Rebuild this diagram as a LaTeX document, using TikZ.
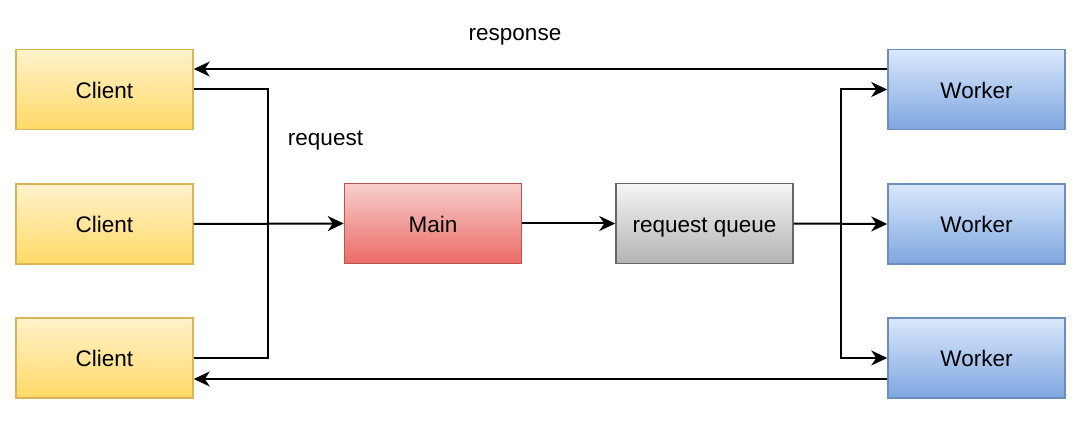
\documentclass[tikz,border=0pt]{standalone}
\usepackage{fontspec}
\setmainfont{Liberation Sans}
\usetikzlibrary{arrows.meta}
\definecolor{ytop}{HTML}{FFF2CC}\definecolor{ybot}{HTML}{FFD966}\definecolor{ydraw}{HTML}{D6B656}
\definecolor{rtop}{HTML}{F8CECC}\definecolor{rbot}{HTML}{EA6B66}\definecolor{rdraw}{HTML}{B85450}
\definecolor{gtop}{HTML}{F5F5F5}\definecolor{gbot}{HTML}{B3B3B3}\definecolor{gdraw}{HTML}{666666}
\definecolor{btop}{HTML}{DAE8FC}\definecolor{bbot}{HTML}{7EA6E0}\definecolor{bdraw}{HTML}{6C8EBF}
\tikzset{
  box/.style={rectangle, minimum width=177pt, minimum height=80pt, line width=1.5pt, inner sep=0pt,
    text height=17.5pt, text depth=0pt, font=\fontsize{22.5}{26}\selectfont},
  client/.style={box, draw=ydraw, top color=ytop, bottom color=ybot},
  mainbox/.style={box, draw=rdraw, top color=rtop, bottom color=rbot},
  queuebox/.style={box, draw=gdraw, top color=gtop, bottom color=gbot},
  worker/.style={box, draw=bdraw, top color=btop, bottom color=bbot},
  conn/.style={line width=2pt, draw=black},
  arr/.style={conn, -{Stealth[length=16pt, width=15pt, inset=5pt]}},
  lbl/.style={font=\fontsize{22.5}{26}\selectfont, anchor=base, inner sep=0pt}
}
\begin{document}
\begin{tikzpicture}[x=1pt, y=-1pt]
\useasboundingbox (0,0) rectangle (1080,425);
\node[client] (c1) at (104.5,89.5) {Client};
\node[client] (c2) at (104.5,224) {Client};
\node[client] (c3) at (104.5,358) {Client};
\node[mainbox] (main) at (433,223.5) {Main};
\node[queuebox] (queue) at (704.5,223.5) {request queue};
\node[worker] (w1) at (976.5,89.5) {Worker};
\node[worker] (w2) at (976.5,224) {Worker};
\node[worker] (w3) at (976.5,358) {Worker};
\node[lbl] (resp) at (515,41) {response};
\node[lbl] (req) at (325.5,146) {request};
\coordinate (jl) at (268,224);
\coordinate (jr) at (841,224);
\draw[arr] ([yshift=20.5pt]w1.west) -- ([yshift=20.5pt]c1.west -| c1.east);
\draw[arr] ([yshift=-21pt]w3.west) -- ([yshift=-21pt]c3.west -| c3.east);
\draw[conn] (c1.east) -| (jl) |- (c3.east);
\draw[arr] (c2.east) -- (main.west);
\draw[arr] (main.east) -- (queue.west);
\draw[arr] (queue.east) -- (w2.west);
\draw[arr] (jr) |- (w1.west);
\draw[arr] (jr) |- (w3.west);
\end{tikzpicture}
\end{document}
